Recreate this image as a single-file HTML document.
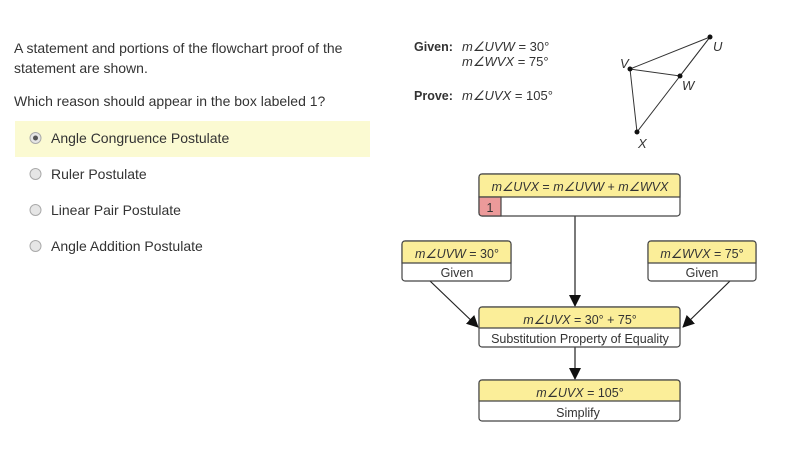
<!DOCTYPE html>
<html><head><meta charset="utf-8"><style>
html,body{margin:0;padding:0;background:#fff;}
svg{display:block;}
text{font-family:"Liberation Sans",Arial,sans-serif;}
</style></head><body>
<svg width="789" height="463" viewBox="0 0 789 463" xmlns="http://www.w3.org/2000/svg">
<defs>
<marker id="ah" markerWidth="12" markerHeight="12" refX="11" refY="6" orient="auto" markerUnits="userSpaceOnUse">
<path d="M0,0 L12,6 L0,12 Z" fill="#111"/></marker>
</defs>
<rect width="789" height="463" fill="#fff"/>
<g fill="#333" font-size="14">
<text x="14" y="53">A statement and portions of the flowchart proof of the</text>
<text x="14" y="73">statement are shown.</text>
<text x="14" y="106">Which reason should appear in the box labeled 1?</text>
</g>
<rect x="15" y="121" width="355" height="36" fill="#fbfad2"/>
<g fill="#333" font-size="14">
<text x="51" y="143">Angle Congruence Postulate</text>
<text x="51" y="179">Ruler Postulate</text>
<text x="51" y="215">Linear Pair Postulate</text>
<text x="51" y="251">Angle Addition Postulate</text>
</g>
<g stroke="#aaa" fill="#e6e6e6">
<circle cx="35.5" cy="138" r="5.5"/><circle cx="35.5" cy="174" r="5.5"/>
<circle cx="35.5" cy="210" r="5.5"/><circle cx="35.5" cy="246" r="5.5"/>
</g>
<circle cx="35.5" cy="138" r="2.5" fill="#555"/>
<g font-size="13" fill="#333">
<text x="414" y="51" font-weight="bold" font-size="12.5">Given:</text>
<text x="462" y="51" font-style="italic">m∠UVW <tspan font-style="normal">= 30°</tspan></text>
<text x="462" y="66" font-style="italic">m∠WVX <tspan font-style="normal">= 75°</tspan></text>
<text x="414" y="100" font-weight="bold" font-size="12.5">Prove:</text>
<text x="462" y="100" font-style="italic">m∠UVX <tspan font-style="normal">= 105°</tspan></text>
</g>
<g stroke="#333" stroke-width="1" fill="none">
<path d="M710,37 L630,69 L680,76 Z"/><path d="M630,69 L637,132 L710,37"/>
</g>
<g fill="#111"><circle cx="710" cy="37" r="2.5"/><circle cx="630" cy="69" r="2.5"/><circle cx="680" cy="76" r="2.5"/><circle cx="637" cy="132" r="2.5"/></g>
<g font-size="13" font-style="italic" fill="#333">
<text x="713" y="51">U</text><text x="620" y="68">V</text><text x="682" y="90">W</text><text x="638" y="148">X</text>
</g>
<g stroke="#222" stroke-width="1.2" marker-end="url(#ah)">
<line x1="575" y1="216" x2="575" y2="306"/>
<line x1="430" y1="281" x2="478" y2="327"/>
<line x1="730" y1="281" x2="683" y2="327"/>
<line x1="575" y1="347" x2="575" y2="379"/>
</g>
<g stroke="#444" stroke-width="1.2">
<rect x="479" y="174" width="201" height="42" rx="3" fill="#fff"/>
<path d="M479,197 V177 a3,3 0 0 1 3,-3 H677 a3,3 0 0 1 3,3 V197 Z" fill="#fbee99"/>
<path d="M479,197 H501 V216 H482 a3,3 0 0 1 -3,-3 Z" fill="#ec9a9a"/>
<rect x="402" y="241" width="109" height="40" rx="3" fill="#fff"/>
<path d="M402,263 V244 a3,3 0 0 1 3,-3 H508 a3,3 0 0 1 3,3 V263 Z" fill="#fbee99"/>
<rect x="648" y="241" width="108" height="40" rx="3" fill="#fff"/>
<path d="M648,263 V244 a3,3 0 0 1 3,-3 H753 a3,3 0 0 1 3,3 V263 Z" fill="#fbee99"/>
<rect x="479" y="307" width="201" height="40" rx="3" fill="#fff"/>
<path d="M479,328 V310 a3,3 0 0 1 3,-3 H677 a3,3 0 0 1 3,3 V328 Z" fill="#fbee99"/>
<rect x="479" y="380" width="201" height="41" rx="3" fill="#fff"/>
<path d="M479,401 V383 a3,3 0 0 1 3,-3 H677 a3,3 0 0 1 3,3 V401 Z" fill="#fbee99"/>
</g>
<g font-size="12.5" fill="#333" text-anchor="middle">
<text x="580" y="191" font-style="italic">m∠UVX <tspan font-style="normal">=</tspan> m∠UVW <tspan font-style="normal">+</tspan> m∠WVX</text>
<text x="490" y="212">1</text>
<text x="457" y="258" font-style="italic">m∠UVW <tspan font-style="normal">= 30°</tspan></text>
<text x="457" y="277">Given</text>
<text x="702" y="258" font-style="italic">m∠WVX <tspan font-style="normal">= 75°</tspan></text>
<text x="702" y="277">Given</text>
<text x="580" y="324" font-style="italic">m∠UVX <tspan font-style="normal">= 30° + 75°</tspan></text>
<text x="580" y="343">Substitution Property of Equality</text>
<text x="580" y="397" font-style="italic">m∠UVX <tspan font-style="normal">= 105°</tspan></text>
<text x="578" y="417">Simplify</text>
</g>
</svg>
</body></html>
